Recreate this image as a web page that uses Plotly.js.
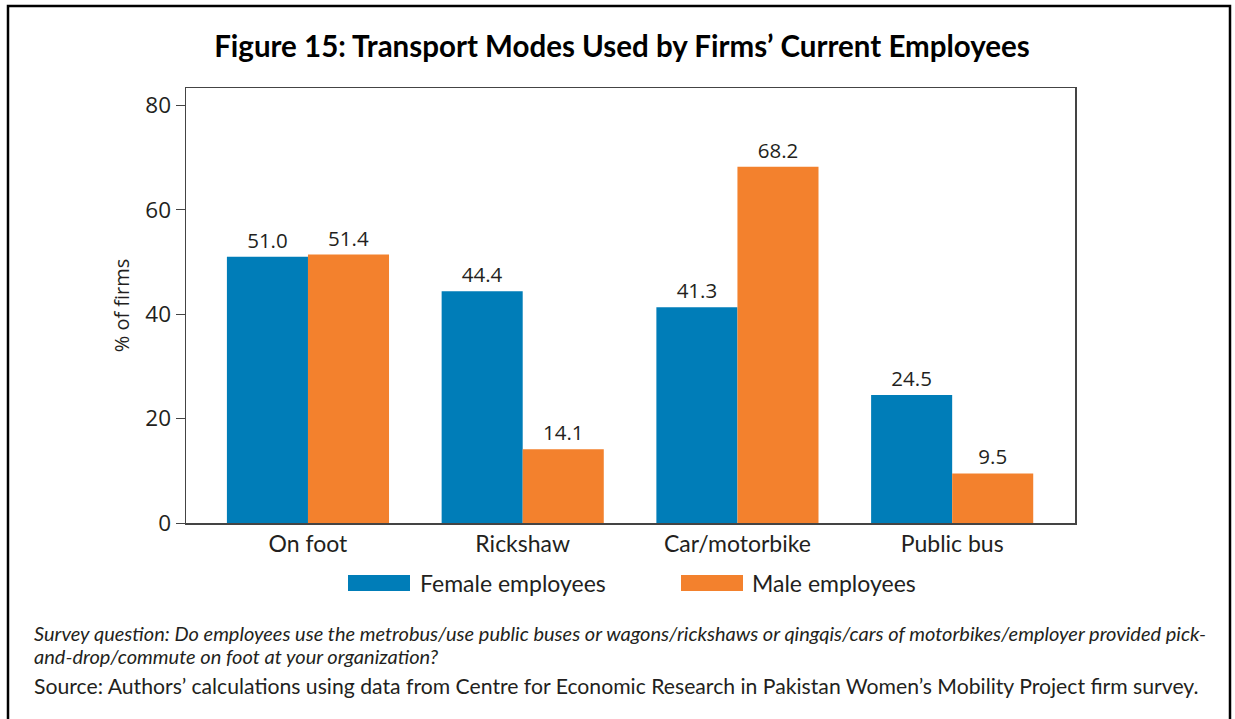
<!DOCTYPE html>
<html>
<head>
<meta charset="utf-8">
<script src="https://cdn.plot.ly/plotly-3.0.1.min.js"></script>
<style>
html,body{margin:0;padding:0;background:#fff;}
#chart{width:1235px;height:719px;}
</style>
</head>
<body>
<div id="chart"></div>
<script>
const categories = ["On foot", "Rickshaw", "Car/motorbike", "Public bus"];
const femaleValues = [51.0, 44.4, 41.3, 24.5];
const maleValues = [51.4, 14.1, 68.2, 9.5];
const seriesNames = ["Female employees", "Male employees"];
const yTicks = [0, 20, 40, 60, 80];

const blue = "#007DB8";
const orange = "#F3812D";
const ink = "#231F20";
const numFont = {family: "Open Sans, sans-serif", size: 20.5, color: ink};
const tickFont = {family: "Open Sans, sans-serif", size: 22.5, color: ink};
const txtFont = {family: "Lato, sans-serif", size: 23, color: ink};

const traces = [
  {type: "bar", x: categories, y: femaleValues, name: seriesNames[0],
   marker: {color: blue}, text: femaleValues.map(v => v.toFixed(1)),
   textposition: "outside", textfont: numFont, cliponaxis: false, showlegend: false},
  {type: "bar", x: categories, y: maleValues, name: seriesNames[1],
   marker: {color: orange}, text: maleValues.map(v => v.toFixed(1)),
   textposition: "outside", textfont: numFont, cliponaxis: false, showlegend: false}
];

const px = v => (v - 186) / 889;
const py = v => (523 - v) / 435;

const ann = [
  {xref: "paper", yref: "paper", x: px(418), y: py(583), xanchor: "left", yanchor: "middle",
   text: seriesNames[0], showarrow: false, font: txtFont},
  {xref: "paper", yref: "paper", x: px(750), y: py(583), xanchor: "left", yanchor: "middle",
   text: seriesNames[1], showarrow: false, font: txtFont},
  {xref: "paper", yref: "paper", x: px(32), y: py(633), xanchor: "left", yanchor: "middle",
   text: "<i>Survey question: Do employees use the metrobus/use public buses or wagons/rickshaws or qingqis/cars of motorbikes/employer provided pick-</i>",
   showarrow: false, font: {family: "Lato, sans-serif", size: 20, color: ink}},
  {xref: "paper", yref: "paper", x: px(32), y: py(656), xanchor: "left", yanchor: "middle",
   text: "<i>and-drop/commute on foot at your organization?</i>",
   showarrow: false, font: {family: "Lato, sans-serif", size: 20, color: ink}},
  {xref: "paper", yref: "paper", x: px(32), y: py(686), xanchor: "left", yanchor: "middle",
   text: "Source: Authors’ calculations using data from Centre for Economic Research in Pakistan Women’s Mobility Project firm survey.",
   showarrow: false, font: {family: "Lato, sans-serif", size: 21.2, color: ink}}
];

const shapes = [
  {type: "rect", xref: "paper", yref: "paper", x0: px(348), x1: px(410),
   y0: py(575), y1: py(591), fillcolor: blue, line: {width: 0}},
  {type: "rect", xref: "paper", yref: "paper", x0: px(681), x1: px(743),
   y0: py(575), y1: py(591), fillcolor: orange, line: {width: 0}},
  {type: "rect", xref: "paper", yref: "paper", x0: px(8), x1: px(1230),
   y0: py(730), y1: py(6), line: {color: "#000", width: 2.5}, fillcolor: "rgba(0,0,0,0)"}
];

const layout = {
  width: 1235, height: 719,
  margin: {l: 186, r: 160, t: 88, b: 196},
  paper_bgcolor: "#fff", plot_bgcolor: "#fff",
  title: {text: "<b>Figure 15: Transport Modes Used by Firms’ Current Employees</b>",
    x: 622/1235, xanchor: "center", yref: "container", y: 1 - 47/719, yanchor: "middle",
    font: {family: "Lato, sans-serif", size: 29.5, color: "#000"}},
  barmode: "group", bargap: 0.245, bargroupgap: 0,
  xaxis: {range: [-0.568, 3.572], showline: true, mirror: true, linecolor: "#444", linewidth: 1.5,
    ticks: "", tickfont: txtFont, showgrid: false, zeroline: false, fixedrange: true},
  yaxis: {range: [0, 83.3], tickvals: yTicks, ticks: "outside", ticklen: 9, tickcolor: "#444",
    showline: true, mirror: true, linecolor: "#444", linewidth: 1.5, showgrid: false, zeroline: false,
    tickfont: tickFont,
    title: {text: "% of firms", font: {family: "Open Sans, sans-serif", size: 20, color: ink}, standoff: 10}},
  annotations: ann,
  shapes: shapes,
  showlegend: false
};

Plotly.newPlot("chart", traces, layout, {displayModeBar: false, staticPlot: true});
</script>
</body>
</html>
